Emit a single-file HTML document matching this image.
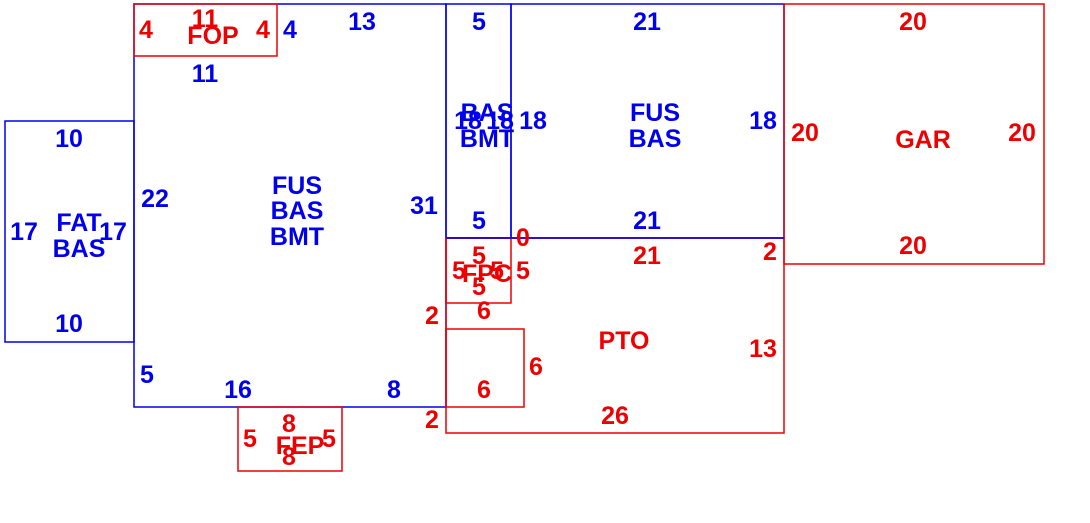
<!DOCTYPE html>
<html><head><meta charset="utf-8"><style>
html,body{margin:0;padding:0;background:#fff;}
svg text{font-family:"Liberation Sans",Arial,sans-serif;font-weight:bold;font-size:25px;text-anchor:middle;}
.b{fill:#0000ee}.r{fill:#ee0000}
</style></head><body>
<svg width="1090" height="518" viewBox="0 0 1090 518" xmlns="http://www.w3.org/2000/svg">
<g fill="none" stroke-width="1.5">
<rect x="5" y="121" width="129" height="221" stroke="#0000ee"/>
<rect x="134" y="4" width="312" height="403" stroke="#0000ee"/>
<rect x="446" y="4" width="65" height="234" stroke="#0000ee"/>
<rect x="511" y="4" width="273" height="234" stroke="#0000ee"/>
<rect x="134" y="4" width="143" height="52" stroke="#ee0000"/>
<rect x="784" y="4" width="260" height="260" stroke="#ee0000"/>
<rect x="446" y="238" width="338" height="195" stroke="#ee0000"/>
<rect x="446" y="238" width="65" height="65" stroke="#ee0000"/>
<rect x="446" y="329" width="78" height="78" stroke="#ee0000"/>
<rect x="238" y="407" width="104" height="64" stroke="#ee0000"/>
<line x1="446" y1="238" x2="784" y2="238" stroke="#0000ee"/>
</g>
<g class="b">
<text x="69" y="147">10</text><text x="24" y="240">17</text><text x="79" y="231">FAT</text><text x="79" y="257">BAS</text>
<text x="113" y="240">17</text><text x="69" y="332">10</text><text x="155" y="207">22</text>
<text x="297" y="194">FUS</text><text x="297" y="219">BAS</text><text x="297" y="245">BMT</text>
<text x="424" y="214">31</text><text x="205" y="82">11</text><text x="290" y="38">4</text><text x="362" y="30">13</text>
<text x="147" y="383">5</text><text x="238" y="398">16</text><text x="394" y="398">8</text>
<text x="479" y="30">5</text><text x="487" y="121">BAS</text><text x="487" y="147">BMT</text>
<text x="468" y="129">18</text><text x="500" y="129">18</text><text x="533" y="129">18</text>
<text x="479" y="229">5</text><text x="647" y="30">21</text><text x="655" y="121">FUS</text><text x="655" y="147">BAS</text>
<text x="763" y="129">18</text><text x="647" y="229">21</text>
</g>
<g class="r">
<text x="146" y="38">4</text><text x="205" y="27">11</text><text x="213" y="44">FOP</text><text x="263" y="38">4</text>
<text x="913" y="30">20</text><text x="805" y="141">20</text><text x="923" y="148">GAR</text><text x="1022" y="141">20</text><text x="913" y="254">20</text>
<text x="523" y="246">0</text><text x="770" y="260">2</text><text x="647" y="264">21</text>
<text x="479" y="264">5</text><text x="459" y="279">5</text><text x="487" y="282">FPC</text><text x="497" y="279">5</text><text x="479" y="295">5</text><text x="523" y="279">5</text>
<text x="432" y="324">2</text><text x="484" y="319">6</text><text x="624" y="349">PTO</text><text x="763" y="357">13</text>
<text x="536" y="375">6</text><text x="484" y="398">6</text><text x="432" y="428">2</text><text x="615" y="424">26</text>
<text x="289" y="432">8</text><text x="250" y="447">5</text><text x="300" y="454">FEP</text><text x="329" y="447">5</text><text x="289" y="465">8</text>
</g>
</svg>
</body></html>
